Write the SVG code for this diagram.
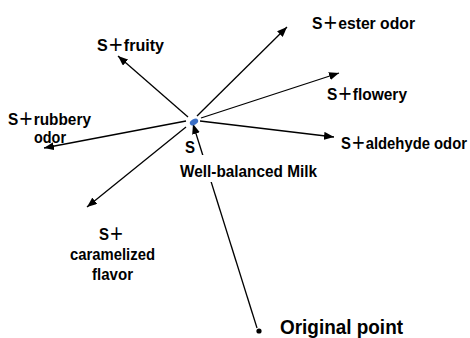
<svg xmlns="http://www.w3.org/2000/svg" width="470" height="338" viewBox="0 0 470 338">
<defs>
<style>
.lbl{font-family:"Liberation Sans","Noto Sans CJK JP",sans-serif;font-size:17px;font-weight:bold;fill:#000}
.big{font-size:21px}
.edge{stroke:#000;stroke-width:1.3;fill:none;marker-end:url(#ah)}
</style>
<marker id="ah" markerUnits="userSpaceOnUse" markerWidth="10" markerHeight="8" viewBox="0 0 10 8" refX="10" refY="4" orient="auto">
<path d="M0,0 L10,4 L0,8 Z" fill="#000"/>
</marker>
</defs>
<rect width="470" height="338" fill="#fff"/>
<g id="connectors">
<line class="edge" x1="188" y1="117" x2="118" y2="56"/>
<line class="edge" x1="186" y1="121" x2="44" y2="148"/>
<line class="edge" x1="186" y1="127" x2="87" y2="207"/>
<line class="edge" x1="197" y1="116" x2="287" y2="27"/>
<line class="edge" x1="201" y1="118" x2="339" y2="73"/>
<line class="edge" x1="200" y1="121" x2="334" y2="137"/>
<line class="edge" x1="257" y1="328" x2="193" y2="124"/>
</g>
<g id="node-s">
<ellipse cx="194" cy="122" rx="4.5" ry="2.8" transform="rotate(-30 194 122)" fill="#3b6fc6"/>
<text class="lbl" x="185" y="153" textLength="10" lengthAdjust="spacingAndGlyphs">S</text>
<rect x="178" y="155" width="142" height="27" fill="#fff"/>
<text class="lbl" x="180" y="177" textLength="137" lengthAdjust="spacingAndGlyphs">Well-balanced Milk</text>
</g>
<g id="node-fruity">
<text class="lbl" x="97" y="51" textLength="67" lengthAdjust="spacingAndGlyphs">S＋fruity</text>
</g>
<g id="node-rubbery">
<text class="lbl" x="8" y="125" textLength="83" lengthAdjust="spacingAndGlyphs">S＋rubbery</text>
<text class="lbl" x="34" y="143" textLength="32" lengthAdjust="spacingAndGlyphs">odor</text>
</g>
<g id="node-caramelized">
<text class="lbl" x="99" y="240" textLength="25" lengthAdjust="spacingAndGlyphs">S＋</text>
<text class="lbl" x="70" y="260" textLength="85" lengthAdjust="spacingAndGlyphs">caramelized</text>
<text class="lbl" x="92" y="280" textLength="41" lengthAdjust="spacingAndGlyphs">flavor</text>
</g>
<g id="node-ester">
<text class="lbl" x="312" y="29" textLength="103" lengthAdjust="spacingAndGlyphs">S＋ester odor</text>
</g>
<g id="node-flowery">
<text class="lbl" x="327" y="100" textLength="80" lengthAdjust="spacingAndGlyphs">S＋flowery</text>
</g>
<g id="node-aldehyde">
<text class="lbl" transform="translate(341 149) scale(0.818 1)" x="0" y="0" textLength="154" lengthAdjust="spacingAndGlyphs">S＋aldehyde odor</text>
</g>
<g id="node-origin">
<circle cx="259" cy="331" r="2.6" fill="#000"/>
<text class="lbl big" x="280" y="334" textLength="123" lengthAdjust="spacingAndGlyphs">Original point</text>
</g>
</svg>
